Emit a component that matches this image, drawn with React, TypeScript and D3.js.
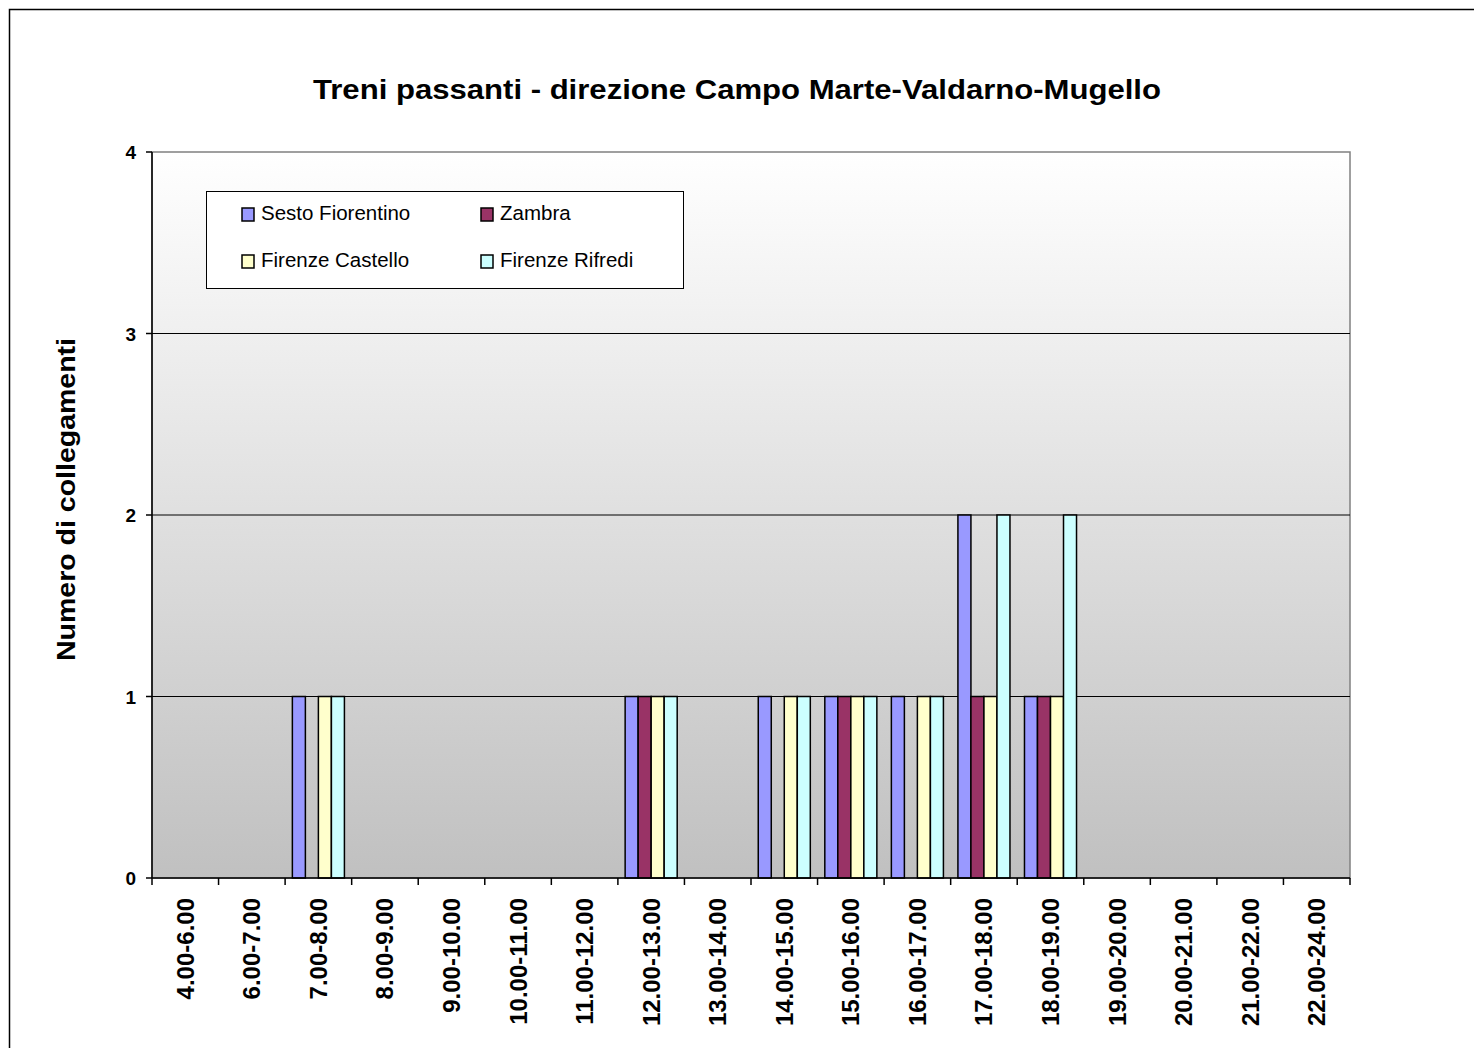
import React from "react";
import * as d3 from "d3";

const categories = [
  "4.00-6.00", "6.00-7.00", "7.00-8.00", "8.00-9.00", "9.00-10.00", "10.00-11.00",
  "11.00-12.00", "12.00-13.00", "13.00-14.00", "14.00-15.00", "15.00-16.00", "16.00-17.00",
  "17.00-18.00", "18.00-19.00", "19.00-20.00", "20.00-21.00", "21.00-22.00", "22.00-24.00",
];
const seriesNames = ["Sesto Fiorentino", "Zambra", "Firenze Castello", "Firenze Rifredi"];
const sestoFiorentino = [0, 0, 1, 0, 0, 0, 0, 1, 0, 1, 1, 1, 2, 1, 0, 0, 0, 0];
const zambra = [0, 0, 0, 0, 0, 0, 0, 1, 0, 0, 1, 0, 1, 1, 0, 0, 0, 0];
const firenzeCastello = [0, 0, 1, 0, 0, 0, 0, 1, 0, 1, 1, 1, 1, 1, 0, 0, 0, 0];
const firenzeRifredi = [0, 0, 1, 0, 0, 0, 0, 1, 0, 1, 1, 1, 2, 2, 0, 0, 0, 0];
const seriesColors = ["#9999FF", "#993366", "#FFFFCC", "#CCFFFF"];
const yTicks = [0, 1, 2, 3, 4];
const title = "Treni passanti - direzione Campo Marte-Valdarno-Mugello";
const yTitle = "Numero di collegamenti";

const seriesValues = [sestoFiorentino, zambra, firenzeCastello, firenzeRifredi];

export default function App() {
  const W = 1474, H = 1048;
  const L = 152, R = 1350, T = 152, B = 878;
  const font = "'Liberation Sans', Arial, sans-serif";

  const x = d3.scaleBand<string>().domain(categories).range([L, R]).padding(0);
  const bw = x.bandwidth();
  const gap = bw * 0.109;
  const xs = d3.scaleBand<string>().domain(seriesNames).range([gap, bw - gap]).padding(0);
  const y = d3.scaleLinear().domain([0, 4]).range([B, T]);

  const legendItems = [
    { name: seriesNames[0], color: seriesColors[0], lx: 242, ly: 208 },
    { name: seriesNames[1], color: seriesColors[1], lx: 481, ly: 208 },
    { name: seriesNames[2], color: seriesColors[2], lx: 242, ly: 255 },
    { name: seriesNames[3], color: seriesColors[3], lx: 481, ly: 255 },
  ];

  return (
    <svg width={W} height={H} style={{ position: "absolute", left: 0, top: 0, background: "#fff" }} fontFamily={font}>
      <defs>
        <linearGradient id="bg" x1="0" y1="0" x2="0" y2="1">
          <stop offset="0" stopColor="#ffffff" />
          <stop offset="1" stopColor="#c0c0c0" />
        </linearGradient>
      </defs>
      <rect x={9.5} y={9.5} width={W} height={H} fill="#fff" stroke="#000" strokeWidth={1.5} />
      <text x={313} y={99} fontSize={28} fontWeight="bold" textLength={848} lengthAdjust="spacingAndGlyphs">{title}</text>

      <rect x={L} y={T} width={R - L} height={B - T} fill="url(#bg)" stroke="#808080" strokeWidth={1.5} />
      {yTicks.filter((t) => t > 0 && t < 4).map((t) => (
        <line key={t} x1={L} x2={R} y1={y(t)} y2={y(t)} stroke="#000" strokeWidth={1} />
      ))}

      {categories.map((c, i) => (
        <g key={c}>
          {seriesNames.map((s, j) => {
            const v = seriesValues[j][i];
            if (!v) return null;
            return (
              <rect key={s} x={(x(c) as number) + (xs(s) as number)} y={y(v)} width={xs.bandwidth()} height={y(0) - y(v)}
                fill={seriesColors[j]} stroke="#000" strokeWidth={1.5} />
            );
          })}
        </g>
      ))}

      {/* Y axis */}
      <line x1={L} x2={L} y1={T} y2={B} stroke="#000" strokeWidth={1.5} />
      {yTicks.map((t) => (
        <g key={t}>
          <line x1={L - 6} x2={L} y1={y(t)} y2={y(t)} stroke="#000" strokeWidth={1.5} />
          <text x={136} y={y(t) + 7} textAnchor="end" fontSize={19} fontWeight="bold">{t}</text>
        </g>
      ))}
      {/* X axis */}
      <line x1={L} x2={R} y1={B} y2={B} stroke="#000" strokeWidth={1.5} />
      {[...categories.map((c) => x(c) as number), R].map((px, i) => (
        <line key={i} x1={px} x2={px} y1={B} y2={B + 7} stroke="#000" strokeWidth={1.5} />
      ))}
      {categories.map((c) => {
        const cx = (x(c) as number) + bw / 2;
        return (
          <text key={c} transform={`translate(${cx + 8.5},898) rotate(-90)`} textAnchor="end" fontSize={24} fontWeight="bold">{c}</text>
        );
      })}

      <text transform={`translate(75,661) rotate(-90)`} fontSize={25} fontWeight="bold" textLength={323} lengthAdjust="spacingAndGlyphs">{yTitle}</text>

      {/* Legend */}
      <rect x={206.5} y={191.5} width={477} height={97} fill="#fff" stroke="#000" strokeWidth={1} />
      {legendItems.map((it) => (
        <g key={it.name}>
          <rect x={it.lx} y={it.ly} width={12} height={13} fill={it.color} stroke="#000" strokeWidth={1.5} />
          <text x={it.lx + 19} y={it.ly + 12} fontSize={20.5}>{it.name}</text>
        </g>
      ))}
    </svg>
  );
}
